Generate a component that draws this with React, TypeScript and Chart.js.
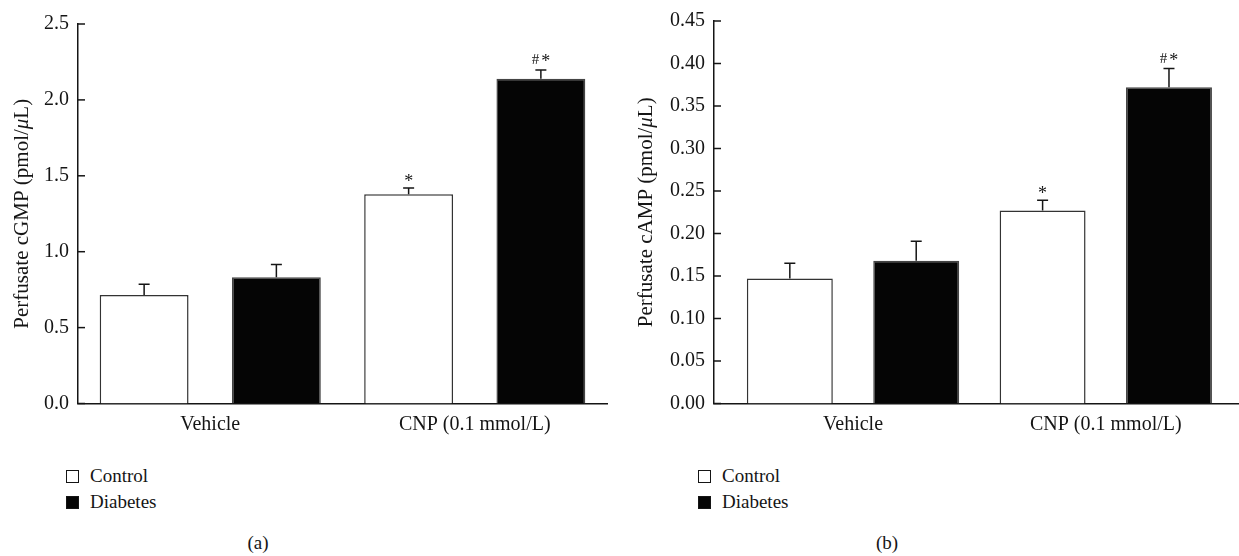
import React, { useEffect, useRef } from "react";
import { Chart, registerables } from "chart.js";

Chart.register(...registerables);

// ---------- data ----------
const CATEGORIES = ["Vehicle", "CNP (0.1 mmol/L)"];
const CATEGORY_POS = [0, 1];
const SERIES_NAMES = ["Control", "Diabetes"];

const CGMP_CONTROL = [0.714, 1.378];
const CGMP_CONTROL_ERR = [0.072, 0.041];
const CGMP_DIABETES = [0.831, 2.14];
const CGMP_DIABETES_ERR = [0.085, 0.057];
const CGMP_TICKS = [0, 0.5, 1.0, 1.5, 2.0, 2.5];

const CAMP_CONTROL = [0.147, 0.227];
const CAMP_CONTROL_ERR = [0.018, 0.012];
const CAMP_DIABETES = [0.168, 0.372];
const CAMP_DIABETES_ERR = [0.023, 0.022];
const CAMP_TICKS = [0, 0.05, 0.1, 0.15, 0.2, 0.25, 0.3, 0.35, 0.4, 0.45];

const MARKS_CONTROL = ["", "*"];
const MARKS_DIABETES = ["", "#*"];

const FONT = '"Liberation Serif", "Times New Roman", serif';
const INK = "#151515";

type PanelSpec = {
  control: number[];
  controlErr: number[];
  diabetes: number[];
  diabetesErr: number[];
  ticks: number[];
  decimals: number;
  xMin: number;
  xMax: number;
  titleParts: string[];
  titleX: number;
  yAxisWidth: number;
  padTop: number;
  padRight: number;
  barPct: number;
  width: number;
  height: number;
  axisBottom: number;
};

function drawMark(ctx: any, mark: string, x: number, capY: number) {
  const chars = mark.split("");
  const multi = chars.length > 1;
  const fontFor = (c: string) => (c === "#" ? `15px ${FONT}` : `18px ${FONT}`);
  const baseFor = (c: string) => (c === "#" ? capY - 6 : capY - (multi ? 3 : 1));
  const gap = 2;
  const widths = chars.map((c) => {
    ctx.font = fontFor(c);
    return ctx.measureText(c).width;
  });
  const total = widths.reduce((a, b) => a + b, 0) + gap * (chars.length - 1);
  let cx = x - total / 2;
  ctx.textAlign = "left";
  ctx.textBaseline = "alphabetic";
  ctx.fillStyle = INK;
  chars.forEach((c, i) => {
    ctx.font = fontFor(c);
    ctx.fillText(c, cx, baseFor(c));
    cx += widths[i] + gap;
  });
}

const decorPlugin = {
  id: "decor",
  afterDatasetsDraw(chart: any) {
    const ctx = chart.ctx;
    const yScale = chart.scales.y;
    chart.data.datasets.forEach((ds: any, di: number) => {
      const meta = chart.getDatasetMeta(di);
      meta.data.forEach((bar: any, i: number) => {
        const v = ds.data[i].y;
        const e = ds.errors[i];
        const yTop = yScale.getPixelForValue(v);
        const yErr = yScale.getPixelForValue(v + e);
        const x = bar.x;
        ctx.save();
        ctx.strokeStyle = INK;
        ctx.lineWidth = 1.5;
        ctx.beginPath();
        ctx.moveTo(x, yTop);
        ctx.lineTo(x, yErr);
        ctx.moveTo(x - 5.5, yErr);
        ctx.lineTo(x + 5.5, yErr);
        ctx.stroke();
        const mark = ds.marks[i];
        if (mark) drawMark(ctx, mark, x, yErr);
        ctx.restore();
      });
    });
  },
  afterDraw(chart: any) {
    const ctx = chart.ctx;
    const y = chart.scales.y;
    const { left, top, bottom } = chart.chartArea;
    ctx.save();
    ctx.strokeStyle = INK;
    ctx.lineWidth = 1.5;
    y.ticks.forEach((t: any) => {
      const py = y.getPixelForValue(t.value);
      ctx.beginPath();
      ctx.moveTo(left, py);
      ctx.lineTo(left + 7, py);
      ctx.stroke();
    });
    // rotated y title with italic mu
    const parts: string[] = chart.options.plugins.decor.titleParts;
    const tx = chart.options.plugins.decor.titleX;
    const fonts = parts.map((_, i) => (i === 1 ? `italic 21px ${FONT}` : `21px ${FONT}`));
    let total = 0;
    const widths = parts.map((p, i) => {
      ctx.font = fonts[i];
      const w = ctx.measureText(p).width;
      total += w;
      return w;
    });
    ctx.translate(tx, (top + bottom) / 2);
    ctx.rotate(-Math.PI / 2);
    ctx.fillStyle = INK;
    ctx.textBaseline = "middle";
    ctx.textAlign = "left";
    let cx = -total / 2;
    parts.forEach((p, i) => {
      ctx.font = fonts[i];
      ctx.fillText(p, cx, 0);
      cx += widths[i];
    });
    ctx.restore();
  },
};

function makeConfig(p: PanelSpec): any {
  const mk = (vals: number[]) => CATEGORY_POS.map((x, i) => ({ x, y: vals[i] }));
  return {
    type: "bar",
    data: {
      datasets: [
        {
          label: SERIES_NAMES[0],
          data: mk(p.control),
          errors: p.controlErr,
          marks: MARKS_CONTROL,
          backgroundColor: "#ffffff",
          borderColor: "#333333",
          borderWidth: 1.5,
          categoryPercentage: 1,
          barPercentage: p.barPct,
        },
        {
          label: SERIES_NAMES[1],
          data: mk(p.diabetes),
          errors: p.diabetesErr,
          marks: MARKS_DIABETES,
          backgroundColor: "#050505",
          borderColor: "#444444",
          borderWidth: 1.5,
          categoryPercentage: 1,
          barPercentage: p.barPct,
        },
      ],
    },
    options: {
      responsive: false,
      animation: false,
      devicePixelRatio: 1,
      layout: { padding: { left: 0, right: p.padRight, top: p.padTop, bottom: 0 } },
      plugins: {
        legend: { display: false },
        tooltip: { enabled: false },
        decor: { titleParts: p.titleParts, titleX: p.titleX },
      },
      scales: {
        x: {
          type: "linear",
          offset: false,
          min: p.xMin,
          max: p.xMax,
          grid: { display: false, drawTicks: false, offset: false },
          border: { display: true, color: INK, width: 1.5 },
          afterBuildTicks: (s: any) => {
            s.ticks = CATEGORY_POS.map((v) => ({ value: v }));
          },
          afterFit: (s: any) => {
            s.height = p.height - p.axisBottom;
          },
          ticks: {
            autoSkip: false,
            maxRotation: 0,
            padding: 9,
            color: INK,
            font: { family: FONT, size: 20 },
            callback: (v: number) => {
              const i = CATEGORY_POS.indexOf(v);
              return i >= 0 ? CATEGORIES[i] : "";
            },
          },
        },
        y: {
          min: 0,
          max: p.ticks[p.ticks.length - 1],
          grid: { display: false, drawTicks: false },
          border: { display: true, color: INK, width: 1.5 },
          afterBuildTicks: (s: any) => {
            s.ticks = p.ticks.map((v) => ({ value: v }));
          },
          afterFit: (s: any) => {
            s.width = p.yAxisWidth;
          },
          ticks: {
            padding: 9,
            color: INK,
            font: { family: FONT, size: 20 },
            callback: (v: number) => Number(v).toFixed(p.decimals),
          },
        },
      },
    },
    plugins: [decorPlugin],
  };
}

const PANEL_A: PanelSpec = {
  control: CGMP_CONTROL,
  controlErr: CGMP_CONTROL_ERR,
  diabetes: CGMP_DIABETES,
  diabetesErr: CGMP_DIABETES_ERR,
  ticks: CGMP_TICKS,
  decimals: 1,
  xMin: -0.5,
  xMax: 1.5,
  titleParts: ["Perfusate cGMP (pmol/", "\u03bc", "L)"],
  titleX: 22,
  yAxisWidth: 78,
  padTop: 24,
  padRight: 13,
  barPct: 0.672,
  width: 620,
  height: 440,
  axisBottom: 403.5,
};

const PANEL_B: PanelSpec = {
  control: CAMP_CONTROL,
  controlErr: CAMP_CONTROL_ERR,
  diabetes: CAMP_DIABETES,
  diabetesErr: CAMP_DIABETES_ERR,
  ticks: CAMP_TICKS,
  decimals: 2,
  xMin: -0.55,
  xMax: 1.527,
  titleParts: ["Perfusate cAMP (pmol/", "\u03bc", "L)"],
  titleX: 26,
  yAxisWidth: 94,
  padTop: 12.7,
  padRight: 0,
  barPct: 0.68,
  width: 619,
  height: 440,
  axisBottom: 403.5,
};

function Panel({ spec, left }: { spec: PanelSpec; left: number }) {
  const ref = useRef<HTMLCanvasElement | null>(null);
  useEffect(() => {
    if (!ref.current) return;
    const chart = new Chart(ref.current, makeConfig(spec));
    return () => chart.destroy();
  }, [spec]);
  return (
    <canvas
      ref={ref}
      width={spec.width}
      height={spec.height}
      style={{ position: "absolute", left, top: 0, width: spec.width, height: spec.height }}
    />
  );
}

function Legend({ left }: { left: number }) {
  return (
    <div style={{ position: "absolute", left, top: 463, font: `19px ${FONT}`, color: INK }}>
      {SERIES_NAMES.map((n, i) => (
        <div key={n} style={{ display: "flex", alignItems: "center", height: 26 }}>
          <span
            style={{
              display: "inline-block",
              width: 13,
              height: 13,
              boxSizing: "border-box",
              border: `1.5px solid ${INK}`,
              background: i === 0 ? "#ffffff" : "#050505",
              marginRight: 11,
            }}
          />
          <span>{n}</span>
        </div>
      ))}
    </div>
  );
}

function Caption({ text, cx }: { text: string; cx: number }) {
  return (
    <div
      style={{
        position: "absolute",
        left: cx,
        top: 531,
        transform: "translateX(-50%)",
        font: `19px ${FONT}`,
        lineHeight: "24px",
        color: INK,
      }}
    >
      {text}
    </div>
  );
}

export default function App() {
  return (
    <div
      style={{
        position: "fixed",
        left: 0,
        top: 0,
        width: 1239,
        height: 556,
        background: "#ffffff",
        overflow: "hidden",
      }}
    >
      <Panel spec={PANEL_A} left={0} />
      <Panel spec={PANEL_B} left={620} />
      <Legend left={66} />
      <Legend left={698} />
      <Caption text="(a)" cx={258} />
      <Caption text="(b)" cx={887} />
    </div>
  );
}
